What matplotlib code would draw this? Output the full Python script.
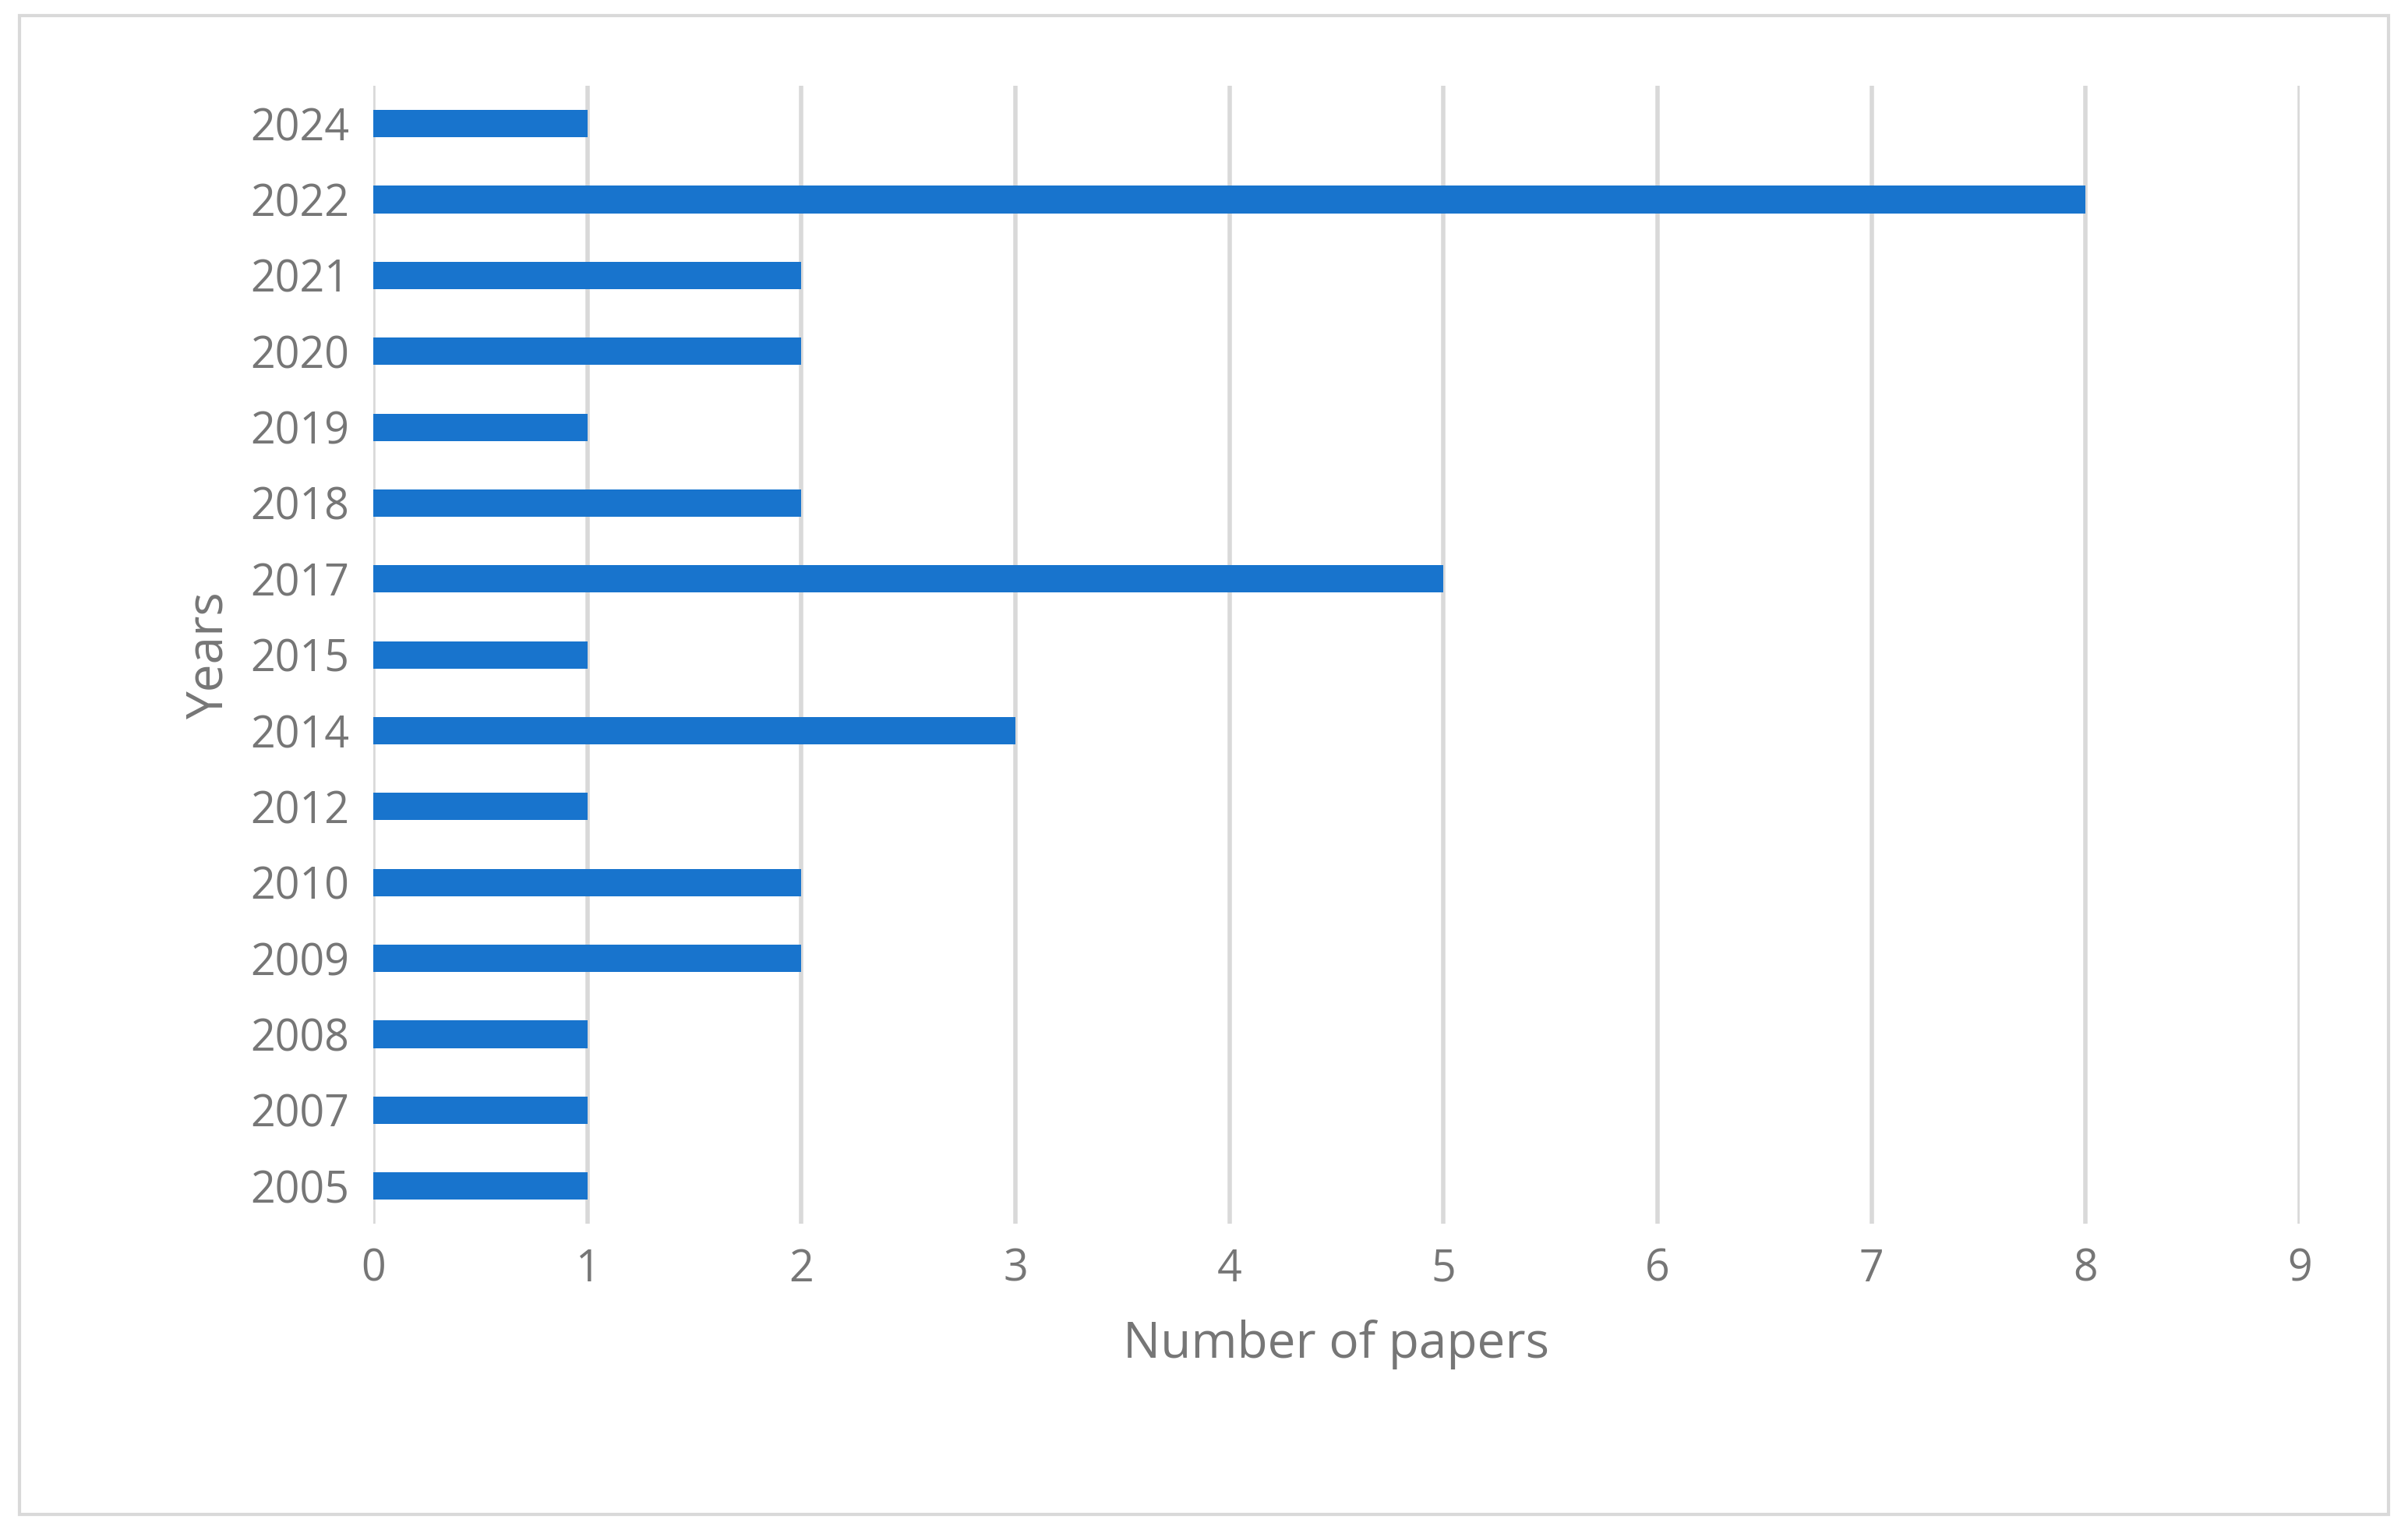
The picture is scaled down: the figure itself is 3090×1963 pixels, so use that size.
import matplotlib.pyplot as plt
from matplotlib.patches import Rectangle

years = ["2005", "2007", "2008", "2009", "2010", "2012", "2014", "2015",
         "2017", "2018", "2019", "2020", "2021", "2022", "2024"]
papers = [1, 1, 1, 2, 2, 1, 3, 1, 5, 2, 1, 2, 2, 8, 1]

plt.rcParams["font.family"] = ["Open Sans", "DejaVu Sans"]
grey = "#767676"

fig = plt.figure(figsize=(30.9, 19.63), dpi=100)
ax = fig.add_axes([0.155, 0.2, 0.8, 0.744])

ax.barh(range(len(years)), papers, height=0.36, color="#1874cd", zorder=3)
ax.set_yticks(range(len(years)))
ax.set_yticklabels(years)
ax.set_ylim(-0.5, len(years) - 0.5)
ax.set_xlim(0, 9)
ax.set_xticks(range(10))

ax.grid(axis="x", color="#d9d9d9", linewidth=4, zorder=0)
for s in ax.spines.values():
    s.set_visible(False)
ax.tick_params(length=0, labelsize=40, labelcolor=grey, pad=22)
ax.set_xlabel("Number of papers", fontsize=46, color=grey, labelpad=25)
ax.set_ylabel("Years", fontsize=46, color=grey, labelpad=15)

fig.patches.append(Rectangle((0.008, 0.01), 0.984, 0.98, transform=fig.transFigure,
                             fill=False, edgecolor="#d9d9d9", linewidth=3))

fig.savefig("out.png", dpi=100)
